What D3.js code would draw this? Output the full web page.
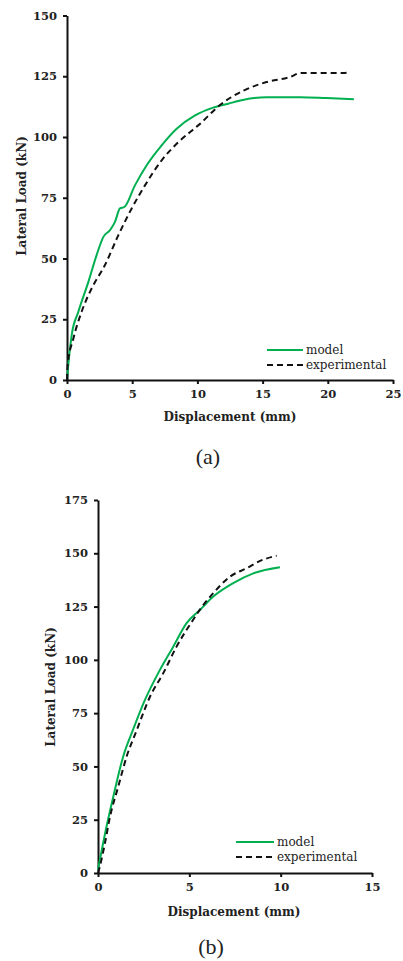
<!DOCTYPE html>
<html>
<head>
<meta charset="utf-8">
<script src="https://cdn.jsdelivr.net/npm/d3@7"></script>
<style>
body{margin:0;background:#fff;}
svg text{fill:#222;}
</style>
</head>
<body>
<div id="chart"></div>
<script>
// panel (a) values
var dispA_model = [0,0.05,0.36,0.87,1.64,2.27,2.79,3.3,3.68,4.06,4.4,5.21,6.11,7.26,8.41,9.82,11.1,12.37,13.3,15.3,17.9,19.9,22];
var loadA_model = [0,3.4,18.5,28.1,40.4,51.4,58.9,61.7,65.1,70.6,71.2,80.1,88.4,96.6,103.4,108.9,111.9,113.7,115,116.4,116.4,116,115.5];
var dispA_exp = [0,0.05,0.49,1.12,1.89,2.91,3.94,4.96,5.98,7.26,8.54,10.07,11.86,13.5,15.3,17.1,17.9,21.2,21.7];
var loadA_exp = [0,6.2,17.1,28.1,37.7,47.3,59.6,70.6,80.1,90.4,97.9,104.8,113.7,119,122.6,124.7,126.3,126.3,127];
// panel (b)
var dispB_model = [0,0.47,0.84,1.38,1.93,2.57,3.39,4.12,4.85,5.58,6.31,7.4,8.5,9.96];
var loadB_model = [1.5,21.9,35.9,54.7,67.5,81.2,95.3,106.2,117.2,123.4,129.7,136,140.6,143.5];
var dispB_exp = [0,0.1,0.38,0.66,1.11,1.57,2.12,2.85,3.57,4.3,5.2,5.58,6.31,7.22,8.14,8.87,9.78];
var loadB_exp = [0,3,14,26.5,40.6,54.7,67,82.8,93.7,106.2,118.7,123.6,131.3,139,143,146.4,148.9];

var xTicksA = [0,5,10,15,20,25];
var yTicksA = [0,25,50,75,100,125,150];
var xTicksB = [0,5,10,15];
var yTicksB = [0,25,50,75,100,125,150,175];
var seriesNames = ["model","experimental"];

var svg = d3.select("#chart").append("svg")
  .attr("width",403).attr("height",961);

function zip(xs,ys){ return xs.map((d,i)=>({x:d,y:ys[i]})); }

function panel(p){
  var x = d3.scaleLinear().domain([0,d3.max(p.xt)]).range([p.x0,p.x1]);
  var y = d3.scaleLinear().domain([0,d3.max(p.yt)]).range([p.y0,p.y1]);
  var g = svg.append("g");

  var xa = g.append("g").attr("transform",`translate(0,${p.y0})`)
    .call(d3.axisBottom(x).tickValues(p.xt).tickSize(4).tickPadding(6).tickSizeOuter(0));
  var ya = g.append("g").attr("transform",`translate(${p.x0},0)`)
    .call(d3.axisLeft(y).tickValues(p.yt).tickSize(4).tickPadding(6).tickSizeOuter(0));
  [xa,ya].forEach(a=>{
    a.selectAll("path,line").attr("stroke","#111").attr("stroke-width",2);
    a.selectAll("text").attr("font-family","DejaVu Serif").attr("font-weight","bold")
      .attr("font-size","11.5px").attr("fill","#222");
  });

  var line = d3.line().x(d=>x(d.x)).y(d=>y(d.y)).curve(d3.curveMonotoneX);
  g.append("path").datum(zip(p.mx,p.my)).attr("d",line)
    .attr("fill","none").attr("stroke","#00b050").attr("stroke-width",2);
  g.append("path").datum(zip(p.ex,p.ey)).attr("d",line)
    .attr("fill","none").attr("stroke","#111").attr("stroke-width",2).attr("stroke-dasharray","6,4");

  g.append("text").attr("x",p.xl[0]).attr("y",p.xl[1]).attr("text-anchor","middle")
    .attr("font-family","DejaVu Serif").attr("font-weight","bold").attr("font-size","12px")
    .text("Displacement (mm)");
  g.append("text").attr("transform",`translate(${p.yl[0]},${p.yl[1]}) rotate(-90)`)
    .attr("text-anchor","middle")
    .attr("font-family","DejaVu Serif").attr("font-weight","bold").attr("font-size","12px")
    .text("Lateral Load (kN)");

  // legend
  var lg = g.append("g").attr("transform",`translate(${p.lg[0]},${p.lg[1]})`);
  seriesNames.forEach((s,i)=>{
    lg.append("line").attr("x1",0).attr("x2",p.lw).attr("y1",i*15).attr("y2",i*15)
      .attr("stroke",i==0?"#00b050":"#111").attr("stroke-width",2)
      .attr("stroke-dasharray",i==0?null:"6,4");
    lg.append("text").attr("x",p.lw+3).attr("y",i*15).attr("dy","0.35em")
      .attr("font-family","DejaVu Serif").attr("font-size","12px").text(s);
  });

  svg.append("text").attr("x",p.cap[0]).attr("y",p.cap[1]).attr("text-anchor","middle")
    .attr("font-family","Liberation Serif").attr("font-size","22px").attr("fill","#111")
    .text(p.label);
}

panel({x0:67,x1:393,y0:380,y1:15.5,xt:xTicksA,yt:yTicksA,
  mx:dispA_model,my:loadA_model,ex:dispA_exp,ey:loadA_exp,
  xl:[230,421],yl:[26,196],lg:[267,350],lw:36,cap:[208,464],label:"(a)"});
panel({x0:98,x1:372,y0:873,y1:500,xt:xTicksB,yt:yTicksB,
  mx:dispB_model,my:loadB_model,ex:dispB_exp,ey:loadB_exp,
  xl:[234,916],yl:[55,687],lg:[236,842],lw:38,cap:[211,954],label:"(b)"});
</script>
</body>
</html>
